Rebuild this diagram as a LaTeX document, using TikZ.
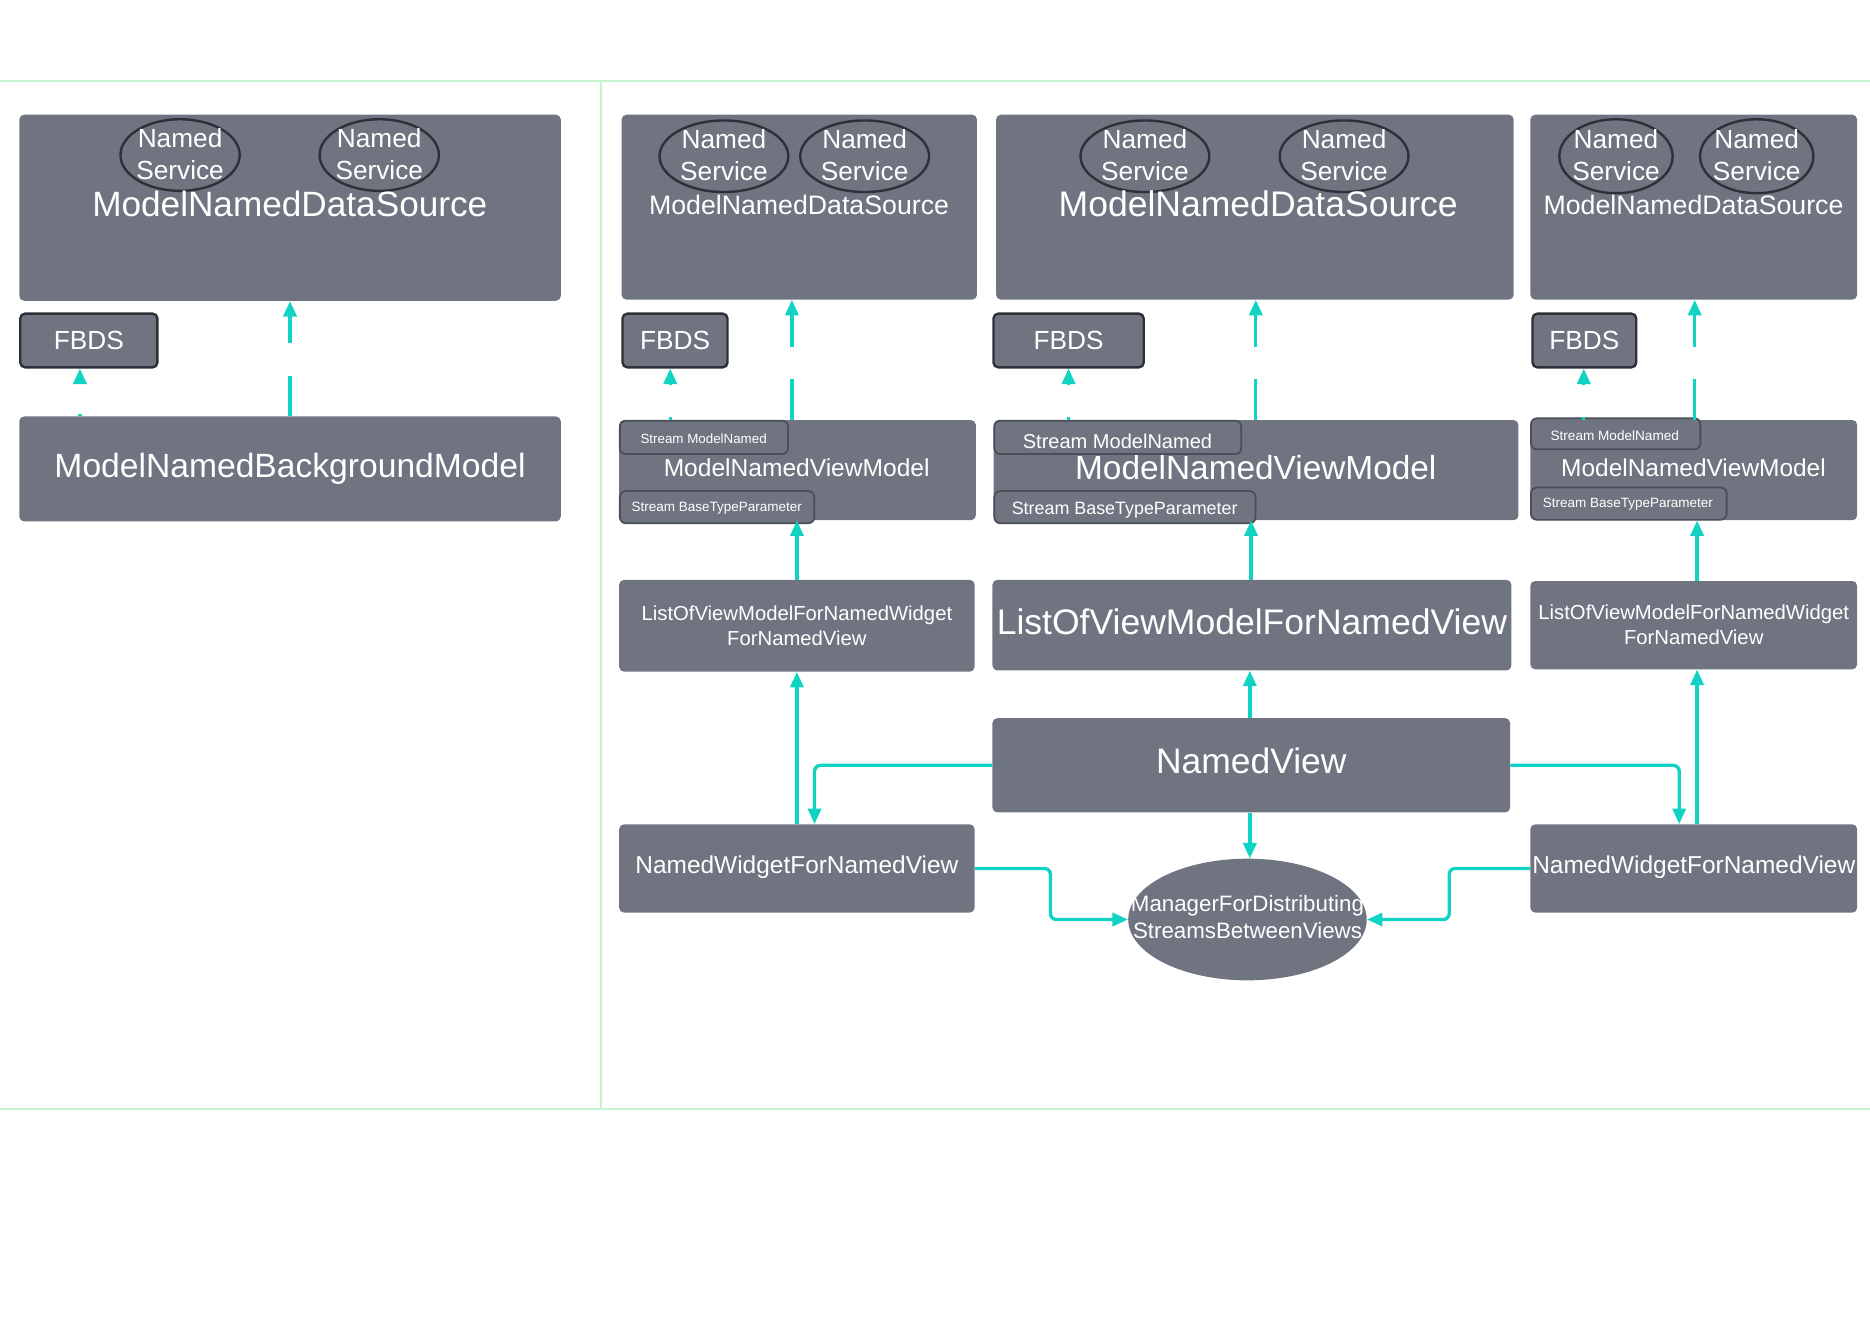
\documentclass[tikz,border=0pt]{standalone}
\usepackage{fontspec}
\setmainfont{Liberation Sans}
\usetikzlibrary{arrows.meta,shapes.geometric,calc}
\definecolor{boxgray}{RGB}{111,116,128}
\definecolor{teal1}{RGB}{16,211,196}
\definecolor{lgreen}{RGB}{196,244,206}
\definecolor{edgedark}{RGB}{45,48,55}
\definecolor{subedge}{RGB}{74,78,88}
\newcommand\fsz[2]{\fontsize{#1}{#2}\selectfont}
\tikzset{
  box/.style={fill=boxgray, rounded corners=4pt, inner sep=0pt, anchor=north west, text=white, align=center},
  fbdsbox/.style={box, draw=edgedark, line width=2pt, font=\fsz{22}{26}},
  subbox/.style={box, draw=subedge, line width=1.5pt, rounded corners=5pt},
  svc/.style={ellipse, draw=edgedark, line width=2pt, inner sep=0pt},
  lbl/.style={text=white, inner sep=0pt, align=center},
  arr/.style={draw=teal1, line width=2.8pt, -{Triangle[length=13pt,width=11pt]}, rounded corners=5pt},
  dasharr/.style={arr, dash pattern=on 34pt off 27pt},
  dashshort/.style={arr, dash pattern=on 34pt off 27pt, dash phase=32pt},
  sep/.style={draw=lgreen, line width=2pt},
}
\begin{document}
\begin{tikzpicture}[x=1pt,y=-1pt]
\useasboundingbox (0,0) rectangle (1568,1108.5);

% separators
\coordinate (tl) at (0,68);
\coordinate (tr) at (1568,68);
\coordinate (bl) at (0,930);
\coordinate (br) at (1568,930);
\coordinate (dt) at (504,68);
\coordinate (db) at (504,930);
\draw[sep] (tl) -- (tr);
\draw[sep] (bl) -- (br);
\draw[sep] (dt) -- (db);

% ================= left panel =================
\node[box, minimum width=454pt, minimum height=156pt] (mndsL) at (16,96) {};
\node[svc, minimum width=100pt, minimum height=60pt] (eL1) at (151,130) {};
\node[svc, minimum width=100pt, minimum height=60pt] (eL2) at (318,130) {};
\node[lbl, font=\fsz{22}{26.5}] (tL1) at (151,129) {Named\\Service};
\node[lbl, font=\fsz{22}{26.5}] (tL2) at (318,129) {Named\\Service};
\node[lbl, font=\fsz{29.5}{34}] (tmndsL) at (243,171) {ModelNamedDataSource};
\node[fbdsbox, minimum width=115pt, minimum height=45pt] (fbdsL) at (16,262) {FBDS};
\node[box, minimum width=454pt, minimum height=88pt, font=\fsz{28.2}{34}] (mnbm) at (16,349) {ModelNamedBackgroundModel};

\draw[dashshort] (mnbm.north -| 67,0) -- (fbdsL.south -| 67,0);
\draw[dasharr] (mnbm.north) -- (mndsL.south);

% ================= column 1 =================
\node[box, minimum width=298pt, minimum height=155pt] (mnds1) at (521,96) {};
\node[svc, minimum width=108pt, minimum height=60pt] (e11) at (607,131) {};
\node[svc, minimum width=108pt, minimum height=60pt] (e12) at (725,131) {};
\node[lbl, font=\fsz{22}{26.5}] (t11) at (607,130) {Named\\Service};
\node[lbl, font=\fsz{22}{26.5}] (t12) at (725,130) {Named\\Service};
\node[lbl, font=\fsz{22.4}{27}] (tmnds1) at (670,172) {ModelNamedDataSource};
\node[fbdsbox, minimum width=88pt, minimum height=45pt] (fbds1) at (521,262) {FBDS};

\node[box, minimum width=299pt, minimum height=84pt] (mnvm1) at (519,352) {};
\node[lbl, font=\fsz{20.6}{25}] (tmnvm1) at (668,392) {ModelNamedViewModel};
\node[subbox, minimum width=141pt, minimum height=28pt] (s1a) at (519,352) {};
\node[lbl, font=\fsz{11.2}{13}] (ts1a) at (590,368) {Stream ModelNamed};
\node[subbox, minimum width=163pt, minimum height=27pt] (s1b) at (519,411) {};
\node[lbl, font=\fsz{11.3}{13}] (ts1b) at (601,426) {Stream BaseTypeParameter};

\node[box, minimum width=298pt, minimum height=77pt, font=\fsz{17}{21}] (list1) at (519,486) {ListOfViewModelForNamedWidget\\ForNamedView};
\node[box, minimum width=298pt, minimum height=74pt, font=\fsz{20.5}{24}, text depth=7pt] (nw1) at (519,691) {NamedWidgetForNamedView};

\draw[dashshort] (mnvm1.north -| 562,0) -- (fbds1.south -| 562,0);
\draw[dasharr] (mnvm1.north -| 664,0) -- (mnds1.south -| 664,0);
\draw[arr] (list1.north) -- (list1.north |- mnvm1.south);
\draw[arr] (nw1.north) -- (list1.south);

% ================= column 2 =================
\node[box, minimum width=434pt, minimum height=155pt] (mnds2) at (835,96) {};
\node[svc, minimum width=108pt, minimum height=60pt] (e21) at (960,131) {};
\node[svc, minimum width=108pt, minimum height=60pt] (e22) at (1127,131) {};
\node[lbl, font=\fsz{22}{26.5}] (t21) at (960,130) {Named\\Service};
\node[lbl, font=\fsz{22}{26.5}] (t22) at (1127,130) {Named\\Service};
\node[lbl, font=\fsz{29.8}{35}] (tmnds2) at (1055,171) {ModelNamedDataSource};
\node[fbdsbox, minimum width=126pt, minimum height=45pt] (fbds2) at (832,262) {FBDS};

\node[box, minimum width=440pt, minimum height=84pt] (mnvm2) at (833,352) {};
\node[lbl, font=\fsz{28}{33}] (tmnvm2) at (1053,392) {ModelNamedViewModel};
\node[subbox, minimum width=207pt, minimum height=28pt] (s2a) at (833,352) {};
\node[lbl, font=\fsz{16.8}{20}] (ts2a) at (937,370) {Stream ModelNamed};
\node[subbox, minimum width=219pt, minimum height=27pt] (s2b) at (833,411) {};
\node[lbl, font=\fsz{15}{18}] (ts2b) at (943,427.5) {Stream BaseTypeParameter};

\node[box, minimum width=435pt, minimum height=76pt, font=\fsz{29.8}{35}, text depth=6pt] (list2) at (832,486) {ListOfViewModelForNamedView};
\node[box, minimum width=434pt, minimum height=79pt, font=\fsz{29.7}{35}, text depth=7pt] (nv) at (832,602) {NamedView};
\node[ellipse, fill=boxgray, inner sep=0pt, minimum width=200pt, minimum height=102pt] (mgr) at (1046,771) {};
\node[lbl, font=\fsz{18.7}{23}] (tmgr) at (1046,769) {ManagerForDistributing\\StreamsBetweenViews};

\draw[dashshort] (mnvm2.north -| 896,0) -- (fbds2.south -| 896,0);
\draw[dasharr] (mnvm2.north -| 1053,0) -- (mnds2.south -| 1053,0);
\draw[arr] (list2.north -| 1049,0) -- (mnvm2.south -| 1049,0);
\draw[arr] (nv.north -| 1048,0) -- (list2.south -| 1048,0);
\draw[arr] (nv.south -| 1048,0) -- (mgr.north -| 1048,0);

% ================= column 3 =================
\node[box, minimum width=274pt, minimum height=155pt] (mnds3) at (1283,96) {};
\node[svc, minimum width=95pt, minimum height=62pt] (e31) at (1355,131) {};
\node[svc, minimum width=95pt, minimum height=62pt] (e32) at (1473,131) {};
\node[lbl, font=\fsz{22}{26.5}] (t31) at (1355,130) {Named\\Service};
\node[lbl, font=\fsz{22}{26.5}] (t32) at (1473,130) {Named\\Service};
\node[lbl, font=\fsz{22.4}{27}] (tmnds3) at (1420,172) {ModelNamedDataSource};
\node[fbdsbox, minimum width=87pt, minimum height=45pt] (fbds3) at (1284,262) {FBDS};

\node[box, minimum width=274pt, minimum height=84pt] (mnvm3) at (1283,352) {};
\node[lbl, font=\fsz{20.5}{25}] (tmnvm3) at (1420,392) {ModelNamedViewModel};
\node[subbox, minimum width=142pt, minimum height=26pt] (s3a) at (1283,350) {};
\node[lbl, font=\fsz{11.4}{13}] (ts3a) at (1354,365) {Stream ModelNamed};
\node[subbox, minimum width=164pt, minimum height=27pt] (s3b) at (1283,408) {};
\node[lbl, font=\fsz{11.3}{13}] (ts3b) at (1365,423) {Stream BaseTypeParameter};

\node[box, minimum width=274pt, minimum height=74pt, font=\fsz{17}{21}] (list3) at (1283,487) {ListOfViewModelForNamedWidget\\ForNamedView};
\node[box, minimum width=274pt, minimum height=74pt, font=\fsz{20.5}{24}, text depth=7pt] (nw2) at (1283,691) {NamedWidgetForNamedView};

\draw[dashshort] (mnvm3.north -| 1328,0) -- (fbds3.south -| 1328,0);
\draw[dasharr] (mnvm3.north -| 1421,0) -- (mnds3.south -| 1421,0);
\draw[arr] (list3.north -| 1423,0) -- (mnvm3.south -| 1423,0);
\draw[arr] (nw2.north -| 1423,0) -- (list3.south -| 1423,0);

% ================= cross connectors =================
\draw[arr] (nv.west) -| (nw1.north -| 683,0);
\draw[arr] (nv.east) -| (nw2.north -| 1408,0);
\draw[arr] (nw1.east) -| ($(mgr.west)+(-65,0)$) -- (mgr.west);
\draw[arr] (nw2.west) -| ($(mgr.east)+(69,0)$) -- (mgr.east);
\end{tikzpicture}
\end{document}
